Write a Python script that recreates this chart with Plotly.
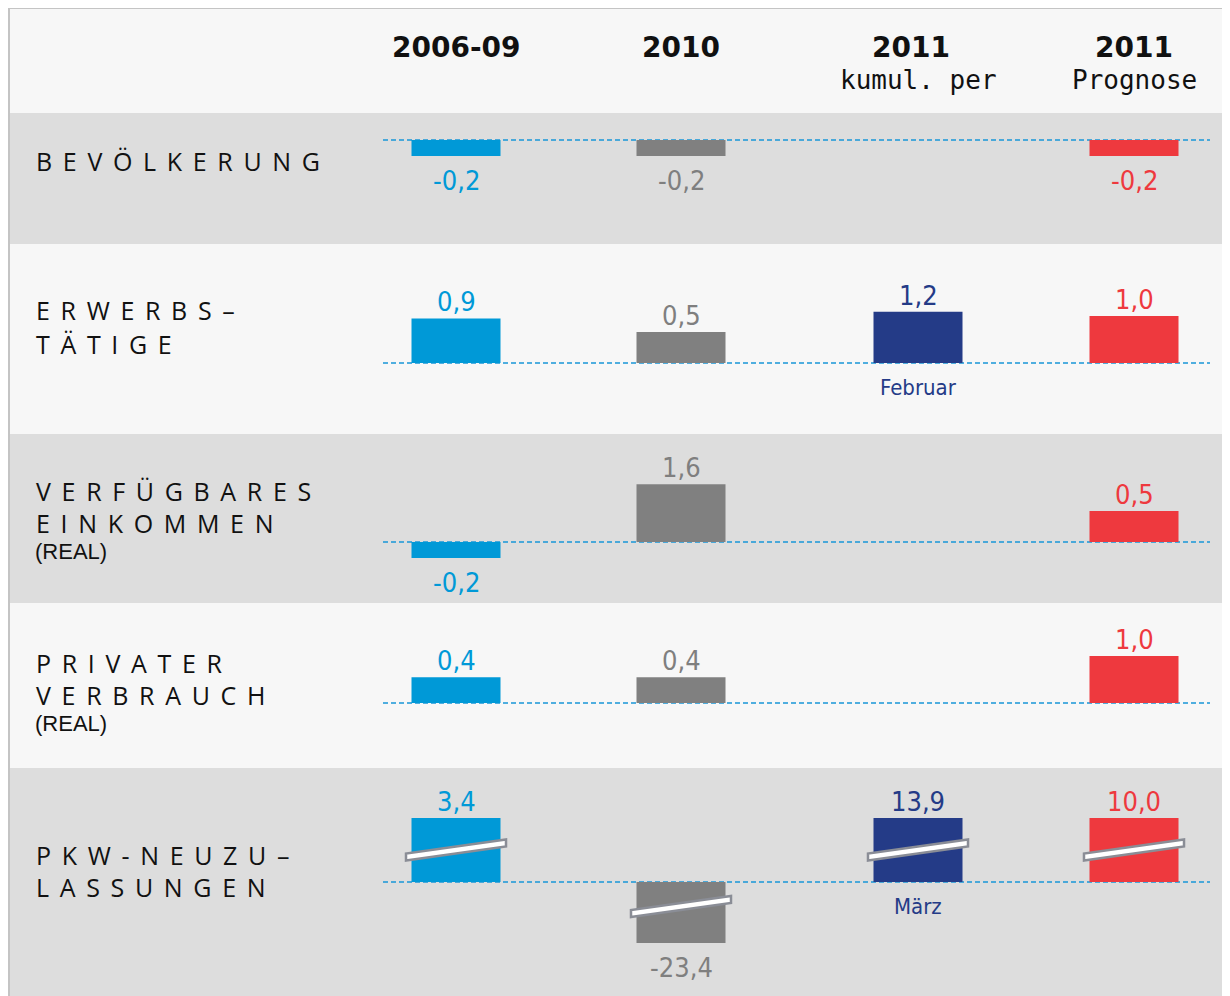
import math
import plotly.graph_objects as go

# page is shown with the browser's default 8px body margin
OFF = 8
PAGE_W, PAGE_H = 1230, 996
W, H = PAGE_W - OFF, PAGE_H - OFF

# ---------------- data ----------------
periods = ["2006-09", "2010", "2011", "2011"]
period_notes = ["", "", "kumul. per", "Prognose"]
indicators = [["BEVÖLKERUNG"], ["ERWERBS–", "TÄTIGE"], ["VERFÜGBARES", "EINKOMMEN"],
              ["PRIVATER", "VERBRAUCH"], ["PKW-NEUZU–", "LASSUNGEN"]]
indicator_notes = ["", "", "(REAL)", "(REAL)", ""]
v_2006_09 = [-0.2, 0.9, -0.2, 0.4, 3.4]
v_2010 = [-0.2, 0.5, 1.6, 0.4, -23.4]
v_2011_kumul = [None, 1.2, None, None, 13.9]
v_2011_prognose = [-0.2, 1.0, 0.5, 1.0, 10.0]
kumul_months = ["", "Februar", "", "", "März"]
axis_break = [False, False, False, False, True]

series = [v_2006_09, v_2010, v_2011_kumul, v_2011_prognose]

# ---------------- style / layout (page pixels) ----------------
bar_colors = ["#0099d7", "#808080", "#243b87", "#ee393e"]
text_colors = ["#0099d7", "#7f7f7f", "#243b87", "#ee393e"]
BAND_GRAY, BAND_LIGHT = "#dddddd", "#f7f7f7"

band_top = [113, 244, 434, 603, 768]
band_bot = [244, 434, 603, 768, 1000]
base_px = [140, 363, 542, 703, 882]
up_h = [22, 100, 100, 90, 64]
dn_h = [60, 60, 55, 55, 61]
label_y = [[161], [310, 344], [491, 523], [663, 695], [855, 887]]
note_y = [None, None, 551, 723, None]

DEC = 53.0           # px per decade on the log scales
UP_BASE = 0.13       # value at baseline for upward axes
DN_BASE = 0.1        # value at baseline for downward axes

# column slots: category axis with slightly uneven spacing (page px of slot centres)
col_center_px = [456, 681, 918, 1134]
SLOT = 226.0                      # px per category unit
col_slot = [(p - col_center_px[0]) / SLOT for p in col_center_px]
BAR_W = 89 / SLOT
xr0 = -(col_center_px[0] - OFF) / SLOT
xr1 = (PAGE_W - col_center_px[0]) / SLOT

VAL_FONT = "DejaVu Sans Condensed, DejaVu Sans"
LBL_SEP = " \u2006"


def py(p):
    return 1 - (p - OFF) / H


def px(p):
    return (p - OFF) / W


def colx(i):
    return px(col_center_px[i])


fig = go.Figure()
shapes, annotations = [], []

# frame + bands
shapes.append(dict(type="rect", xref="paper", yref="paper", x0=px(9), x1=px(PAGE_W + 5), y0=py(PAGE_H + 5),
                   y1=py(8), fillcolor=BAND_LIGHT, line=dict(color="#c4c4c4", width=2), layer="below"))
for r in range(5):
    if r % 2 == 0:
        shapes.append(dict(type="rect", xref="paper", yref="paper", x0=px(10), x1=px(PAGE_W + 5),
                           y0=py(band_bot[r]), y1=py(band_top[r]), fillcolor=BAND_GRAY,
                           line=dict(width=0), layer="below"))
    shapes.append(dict(type="line", xref="paper", yref="paper", x0=px(383), x1=px(1210),
                       y0=py(base_px[r]), y1=py(base_px[r]),
                       line=dict(color="#1897d8", width=1.4, dash="5px,3px"), layer="below"))

layout_axes = {}
for r in range(5):
    ku, kd = 2 * r + 1, 2 * r + 2
    for k, dom, rng in [
        (ku, [py(base_px[r]), py(base_px[r] - up_h[r])],
         [math.log10(UP_BASE), math.log10(UP_BASE) + up_h[r] / DEC]),
        (kd, [py(base_px[r] + dn_h[r]), py(base_px[r])],
         [math.log10(DN_BASE) + dn_h[r] / DEC, math.log10(DN_BASE)]),
    ]:
        sx = "" if k == 1 else str(k)
        layout_axes["xaxis" + sx] = dict(domain=[0, 1], range=[xr0, xr1], visible=False,
                                         anchor="y" + sx, fixedrange=True)
        layout_axes["yaxis" + sx] = dict(domain=dom, range=rng, type="log", visible=False,
                                         anchor="x" + sx, fixedrange=True)

    sxu = "" if ku == 1 else str(ku)
    sxd = str(kd)
    for c in range(4):
        v = series[c][r]
        if v is None:
            continue
        up = v > 0
        sx = sxu if up else sxd
        fig.add_trace(go.Bar(x=[col_slot[c]], y=[abs(v)], width=BAR_W,
                             marker=dict(color=bar_colors[c], line=dict(width=0)),
                             xaxis="x" + sx, yaxis="y" + sx, showlegend=False, hoverinfo="skip"))
        lim = (math.log10(UP_BASE) + up_h[r] / DEC) if up else (math.log10(DN_BASE) + dn_h[r] / DEC)
        ylog = min(math.log10(abs(v)), lim)
        label = f"{v:.1f}".replace(".", ",")
        annotations.append(dict(x=col_slot[c], y=ylog, xref="x" + sx, yref="y" + sx, text=label,
                                showarrow=False, xanchor="center", yanchor="bottom" if up else "top",
                                yshift=-1 if up else -7,
                                font=dict(family=VAL_FONT, size=27, color=text_colors[c])))
        if axis_break[r]:
            # break marker drawn across the bar
            cx = col_center_px[c]
            cy = base_px[r] - up_h[r] / 2 if up else base_px[r] + dn_h[r] / 2 - 6
            L, rise, t = 100, 14, 7
            pts = [(cx - L / 2, cy + rise / 2 + t / 2), (cx + L / 2, cy - rise / 2 + t / 2),
                   (cx + L / 2, cy - rise / 2 - t / 2), (cx - L / 2, cy + rise / 2 - t / 2)]
            path = "M " + " L ".join(f"{px(a):.5f},{py(b):.5f}" for a, b in pts) + " Z"
            shapes.append(dict(type="path", xref="paper", yref="paper", path=path, fillcolor="white",
                               line=dict(color="#8a8d96", width=2.5), layer="above"))
    if kumul_months[r]:
        annotations.append(dict(x=colx(2), y=py(base_px[r] + 24), xref="paper", yref="paper",
                                text=kumul_months[r], showarrow=False, xanchor="center", yanchor="middle",
                                font=dict(family=VAL_FONT, size=22, color=text_colors[2])))

    # row labels
    for line, yc in zip(indicators[r], label_y[r]):
        annotations.append(dict(x=px(34), y=py(yc), xref="paper", yref="paper", xanchor="left",
                                yanchor="middle", text=LBL_SEP.join(list(line)), showarrow=False,
                                font=dict(family="Open Sans", size=25, color="#111111")))
    if indicator_notes[r]:
        annotations.append(dict(x=px(33), y=py(note_y[r]), xref="paper", yref="paper", xanchor="left",
                                yanchor="middle", text=indicator_notes[r], showarrow=False,
                                font=dict(family="Liberation Sans", size=22, color="#111111")))

# header
for c in range(4):
    annotations.append(dict(x=colx(c) - (px(7) - px(0) if c == 2 else 0), y=py(47), xref="paper", yref="paper",
                            text=periods[c], showarrow=False, xanchor="center", yanchor="middle",
                            font=dict(family="DejaVu Sans", size=28, color="#111111", weight="bold")))
    if period_notes[c]:
        annotations.append(dict(x=colx(c), y=py(80), xref="paper", yref="paper", text=period_notes[c],
                                showarrow=False, xanchor="center", yanchor="middle",
                                font=dict(family="DejaVu Sans Mono", size=26, color="#111111")))

fig.update_layout(width=W, height=H, margin=dict(l=0, r=0, t=0, b=0), paper_bgcolor="white",
                  plot_bgcolor="rgba(0,0,0,0)", shapes=shapes, annotations=annotations,
                  barmode="overlay", showlegend=False, **layout_axes)

fig.write_html("out.html", config={"displayModeBar": False})
